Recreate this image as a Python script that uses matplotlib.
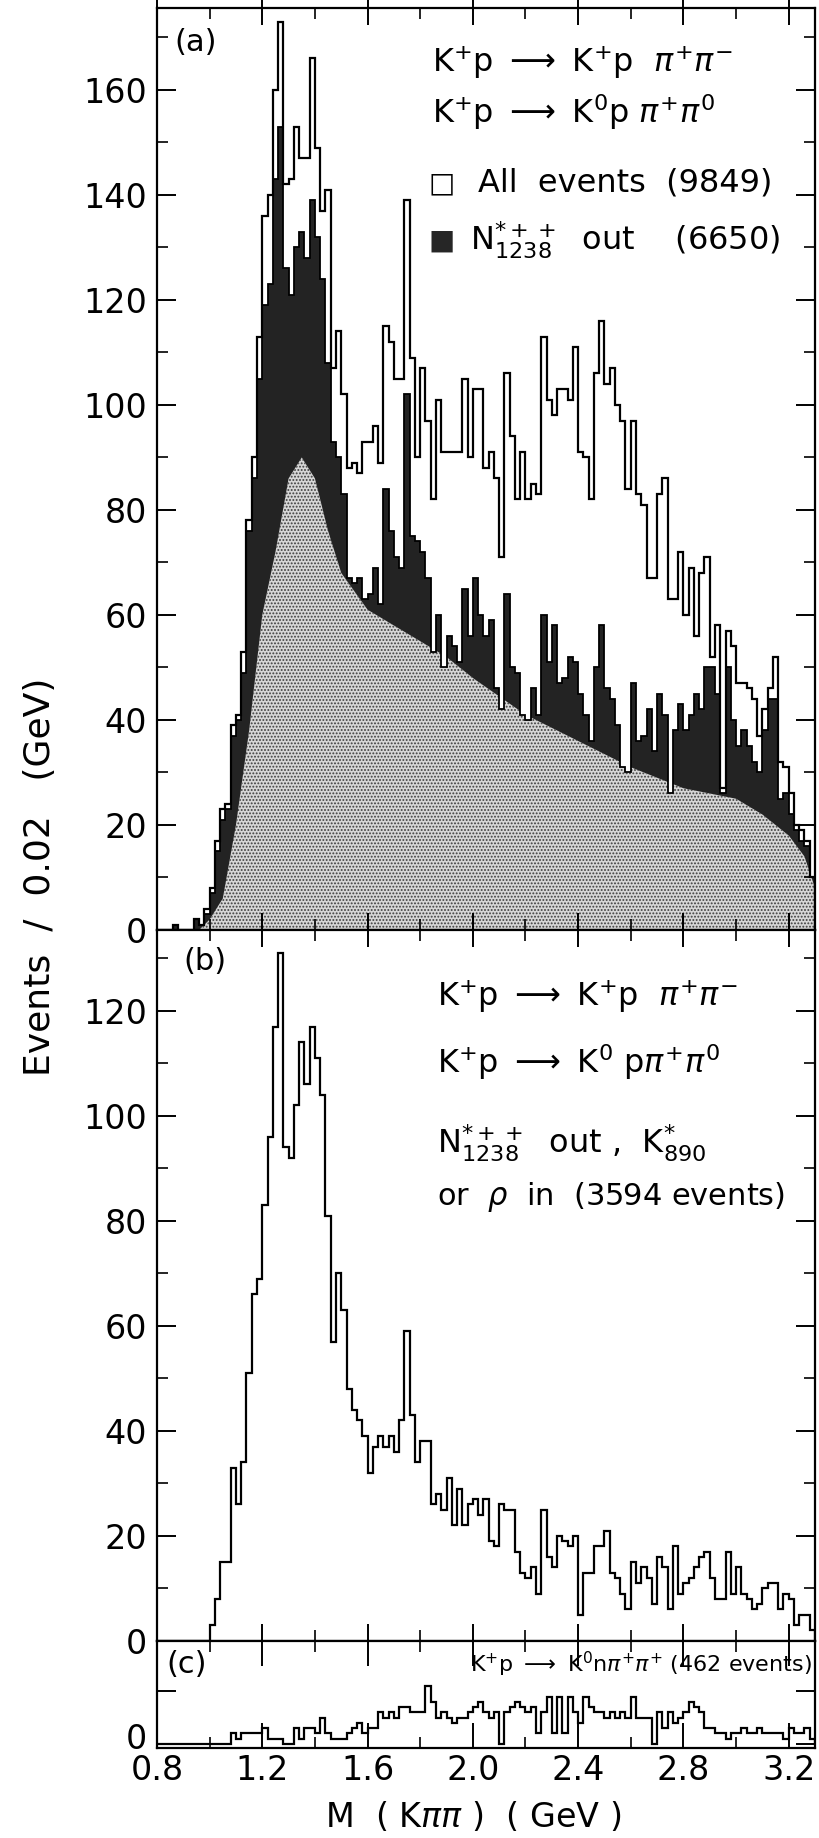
import numpy as np
import matplotlib
matplotlib.use('Agg')
from matplotlib import pyplot as plt
import matplotlib.transforms as mtransforms
from matplotlib.ticker import MultipleLocator, FixedLocator, FixedFormatter

plt.rcParams['font.family'] = ['DejaVu Sans']
plt.rcParams['mathtext.fontset'] = 'dejavusans'
plt.rcParams['hatch.linewidth'] = 0.9

# M(K pi pi) histograms, 0.02 GeV bins from 0.80 to 3.30 GeV
bin_lo = 0.80
bin_width = 0.02
n_bins = 125

# (a) K+p -> K+p pi+pi-, K+p -> K0 p pi+pi0 : all events (9849)
all_events = [
    0, 0, 0, 1, 0, 0, 0, 2, 1, 4,
    8, 17, 23, 24, 39, 41, 53, 78, 90, 113,
    136, 140, 160, 173, 142, 143, 153, 147, 147, 166,
    149, 137, 141, 107, 114, 102, 88, 89, 87, 93,
    93, 96, 89, 115, 112, 105, 105, 139, 109, 90,
    107, 97, 82, 101, 91, 91, 91, 91, 105, 90,
    103, 103, 88, 91, 86, 71, 106, 94, 82, 91,
    82, 85, 83, 113, 101, 98, 103, 103, 101, 111,
    91, 90, 82, 106, 116, 104, 107, 100, 97, 84,
    97, 83, 81, 67, 67, 83, 86, 63, 63, 72,
    60, 69, 56, 68, 71, 52, 58, 27, 57, 54,
    47, 47, 46, 44, 37, 42, 46, 52, 32, 31,
    26, 20, 19, 17, 10,
]
# (a) N*++(1238) out (6650)
nstar_out = [
    0, 0, 0, 1, 0, 0, 0, 2, 1, 3,
    7, 15, 21, 23, 37, 40, 49, 76, 86, 105,
    119, 123, 143, 153, 126, 121, 130, 133, 128, 139,
    132, 124, 108, 93, 90, 83, 67, 66, 67, 63,
    64, 69, 62, 84, 76, 71, 69, 102, 75, 74,
    72, 67, 53, 60, 50, 56, 54, 51, 65, 56,
    67, 60, 56, 59, 46, 42, 64, 50, 49, 41,
    40, 46, 41, 60, 51, 58, 47, 48, 52, 51,
    45, 41, 36, 50, 58, 46, 44, 39, 31, 30,
    47, 36, 37, 42, 34, 45, 41, 26, 38, 43,
    38, 41, 45, 42, 50, 50, 45, 26, 50, 40,
    35, 38, 35, 32, 30, 38, 44, 44, 25, 26,
    22, 19, 17, 16, 10,
]
# upper edge of the light stippled part inside the N* out histogram
shade_mass = [0.96, 1.00, 1.05, 1.10, 1.15, 1.20, 1.25, 1.30, 1.35, 1.40, 1.45, 1.50,
              1.60, 1.70, 1.80, 1.90, 2.00, 2.20, 2.40, 2.60, 2.80, 3.00, 3.10, 3.20,
              3.26, 3.30]
shade_top = [0, 2, 6, 20, 38, 60, 72, 86, 90, 86, 76, 68,
             61, 58, 55, 52, 48, 41, 36, 31, 27, 25, 22, 18,
             14, 8]

# (b) N* out, K*(890) or rho in (3594 events)
kstar_rho_in = [
    0, 0, 0, 0, 0, 0, 0, 0, 0, 0,
    3, 8, 15, 15, 33, 26, 34, 51, 66, 69,
    83, 96, 117, 131, 94, 92, 102, 114, 106, 117,
    111, 104, 81, 57, 70, 63, 48, 44, 42, 39,
    32, 37, 39, 37, 39, 36, 42, 59, 43, 34,
    38, 38, 26, 28, 25, 31, 22, 29, 22, 26,
    27, 24, 27, 19, 18, 26, 25, 25, 17, 13,
    12, 14, 9, 25, 16, 14, 20, 19, 18, 20,
    5, 13, 13, 18, 18, 21, 13, 12, 9, 6,
    15, 11, 14, 12, 7, 16, 14, 6, 18, 9,
    11, 12, 14, 16, 17, 12, 8, 8, 17, 9,
    14, 9, 8, 6, 7, 10, 11, 11, 6, 9,
    8, 3, 5, 5, 2,
]
# (c) K+p -> K0 n pi+ pi+ (462 events)
k0n_events = [
    0, 0, 0, 0, 0, 0, 0, 0, 0, 0,
    0, 0, 0, 0, 2, 1, 2, 2, 2, 2,
    3, 1, 1, 1, 0, 0, 3, 1, 3, 3,
    2, 5, 2, 1, 1, 1, 2, 3, 4, 2,
    3, 3, 6, 5, 6, 5, 7, 7, 6, 6,
    6, 11, 8, 5, 6, 5, 4, 5, 5, 6,
    7, 8, 6, 5, 6, 0, 6, 7, 8, 7,
    6, 7, 2, 6, 9, 2, 9, 2, 9, 6,
    4, 9, 7, 6, 6, 5, 6, 5, 6, 5,
    9, 5, 5, 5, 0, 6, 3, 6, 4, 5,
    6, 8, 7, 6, 3, 3, 2, 2, 1, 2,
    2, 3, 2, 2, 3, 2, 2, 2, 2, 1,
    3, 2, 2, 3, 1,
]

edges = bin_lo + bin_width * np.arange(n_bins + 1)

W, H = 820, 1838
fig = plt.figure(figsize=(W / 100, H / 100), dpi=100)


def px_axes(x0, x1, y0, y1):
    return fig.add_axes([x0 / W, 1 - y1 / H, (x1 - x0) / W, (y1 - y0) / H])


ax_a = px_axes(157, 815, 8, 930)
ax_b = px_axes(157, 815, 930, 1641)
ax_c = px_axes(157, 815, 1641, 1748)

# panel (a)
dark = ax_a.stairs(nstar_out, edges, fill=True, facecolor='#232323', edgecolor='none')
light = ax_a.fill_between(shade_mass, shade_top, facecolor='#d6d6d6', edgecolor='#3c3c3c',
                          hatch='.....', linewidth=0)
light.set_clip_path(dark)
ax_a.stairs(nstar_out, edges, color='black', linewidth=1.3)
ax_a.stairs(all_events, edges, color='black', linewidth=1.6)
ax_a.set_ylim(0, 175.6)

# panel (b)
ax_b.stairs(kstar_rho_in, edges, color='black', linewidth=1.6)
ax_b.set_ylim(0, 135.4)

# panel (c)
ax_c.stairs(k0n_events, edges, color='black', linewidth=1.6)
ax_c.set_ylim(-0.76, 19.6)

for ax in (ax_a, ax_b, ax_c):
    ax.set_xlim(0.80, 3.30)
    ax.xaxis.set_major_locator(MultipleLocator(0.4))
    ax.xaxis.set_minor_locator(MultipleLocator(0.2))
    for sp in ax.spines.values():
        sp.set_linewidth(1.6)
    ax.tick_params(axis='both', which='major', direction='in', length=14, width=1.4,
                   top=True, right=True, labelsize=24, pad=7)
    ax.tick_params(axis='both', which='minor', direction='in', length=8, width=1.2,
                   top=True, right=True)
    ax.tick_params(axis='x', which='major', length=18)

for ax in (ax_a, ax_b):
    ax.yaxis.set_major_locator(MultipleLocator(20))
    ax.yaxis.set_minor_locator(MultipleLocator(10))
    ax.tick_params(axis='x', labelbottom=False)
    ax.tick_params(axis='x', which='major', direction='inout', length=24)

ax_c.yaxis.set_major_locator(FixedLocator([0, 10]))
ax_c.yaxis.set_major_formatter(FixedFormatter(['0', '']))
ax_c.tick_params(axis='x', which='major', pad=4)
# the "0" of panel (c) sits a little above its tick in the original
lift = mtransforms.ScaledTranslation(0, 0.08, fig.dpi_scale_trans)
for tick in ax_c.yaxis.get_major_ticks():
    tick.label1.set_transform(tick.label1.get_transform() + lift)

# annotations
fs = 23
ax_a.text(0.027, 0.963, '(a)', transform=ax_a.transAxes, fontsize=22, va='center')
ax_a.text(0.418, 0.941, r'$\mathrm{K}^{+}$p $\longrightarrow$ $\mathrm{K}^{+}$p  $\pi^{+}\pi^{-}$',
          transform=ax_a.transAxes, fontsize=fs, va='center')
ax_a.text(0.418, 0.887, r'$\mathrm{K}^{+}$p $\longrightarrow$ $\mathrm{K}^{0}$p $\pi^{+}\pi^{0}$',
          transform=ax_a.transAxes, fontsize=fs, va='center')
ax_a.text(0.413, 0.810, '\u25a1', transform=ax_a.transAxes, fontsize=20, va='center')
ax_a.text(0.488, 0.810, 'All  events  (9849)', transform=ax_a.transAxes, fontsize=fs,
          va='center')
ax_a.text(0.413, 0.748, '\u25a0', transform=ax_a.transAxes, fontsize=20, va='center',
          color='#262626')
ax_a.text(0.476, 0.748, r'$\mathrm{N}^{*++}_{1238}$  out    (6650)', transform=ax_a.transAxes,
          fontsize=fs, va='center')

ax_b.text(0.04, 0.955, '(b)', transform=ax_b.transAxes, fontsize=22, va='center')
ax_b.text(0.4255, 0.907, r'$\mathrm{K}^{+}$p $\longrightarrow$ $\mathrm{K}^{+}$p  $\pi^{+}\pi^{-}$',
          transform=ax_b.transAxes, fontsize=fs, va='center')
ax_b.text(0.4255, 0.814, r'$\mathrm{K}^{+}$p $\longrightarrow$ $\mathrm{K}^{0}$ p$\pi^{+}\pi^{0}$',
          transform=ax_b.transAxes, fontsize=fs, va='center')
ax_b.text(0.4255, 0.700, r'$\mathrm{N}^{*++}_{1238}$  out ,  $\mathrm{K}^{*}_{890}$',
          transform=ax_b.transAxes, fontsize=fs, va='center')
ax_b.text(0.4255, 0.624, r'or  $\rho$  in  (3594 events)', transform=ax_b.transAxes,
          fontsize=22, va='center')

ax_c.text(0.015, 0.78, '(c)', transform=ax_c.transAxes, fontsize=22, va='center')
ax_c.text(0.995, 0.78,
          r'$\mathrm{K}^{+}$p $\longrightarrow$ $\mathrm{K}^{0}$n$\pi^{+}\pi^{+}$ (462 events)',
          transform=ax_c.transAxes, fontsize=16, va='center', ha='right')

fig.text(40 / W, 1 - 877 / H, 'Events  /  0.02   (GeV)', rotation=90, fontsize=26,
         ha='center', va='center')
fig.text(473 / W, 1 - 1817 / H, r'M  ( K$\pi\pi$ )  ( GeV )', fontsize=24, ha='center',
         va='center')

fig.savefig('out.png', dpi=100)
